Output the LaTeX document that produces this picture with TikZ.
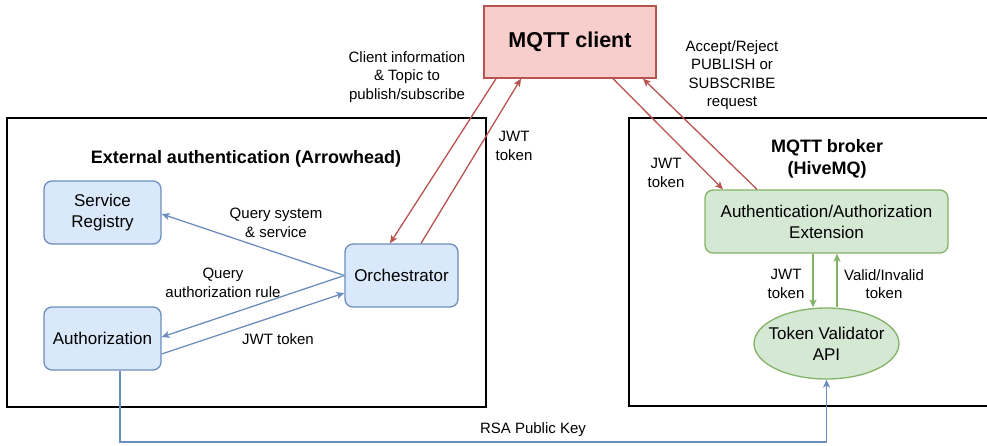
\documentclass[tikz,border=0pt]{standalone}
\usepackage{fontspec}
\setmainfont{Liberation Sans}
\usetikzlibrary{arrows.meta,shapes.geometric,calc}
\definecolor{redS}{HTML}{B85450}
\definecolor{redF}{HTML}{F8CECC}
\definecolor{blueS}{HTML}{6C8EBF}
\definecolor{blueF}{HTML}{DAE8FC}
\definecolor{greenS}{HTML}{82B366}
\definecolor{greenF}{HTML}{D5E8D4}
\tikzset{
  container/.style={draw=black, line width=1.6pt, inner sep=0pt},
  bluebox/.style={draw=blueS, fill=blueF, line width=1.3pt, rounded corners=8pt, align=center, inner sep=0pt, font=\fontsize{17}{21}\selectfont},
  greenbox/.style={draw=greenS, fill=greenF, line width=1.3pt, rounded corners=8pt, align=center, inner sep=0pt, font=\fontsize{17}{21}\selectfont},
  lbl/.style={align=center, inner sep=0pt, font=\fontsize{15}{18.5}\selectfont},
  ttl/.style={align=center, inner sep=0pt, font=\fontsize{18}{22}\selectfont\bfseries},
  tip/.style={-{Stealth[length=8pt,width=7pt,inset=2pt]}},
  redarr/.style={tip, draw=redS, line width=1.3pt},
  bluearr/.style={tip, draw=blueS, line width=1.3pt},
  greenarr/.style={tip, draw=greenS, line width=1.3pt},
}
\begin{document}
\begin{tikzpicture}[x=1pt,y=-1pt]
\useasboundingbox (0,0) rectangle (987,445);
\clip (0,0) rectangle (987,445);
% containers
\node[container, minimum width=479pt, minimum height=289pt] (left) at (246.5,262.5) {};
\node[container, minimum width=366pt, minimum height=288pt] (right) at (812,262) {};
% titles
\node[ttl] (lefttitle) at (246,159) {External authentication (Arrowhead)};
\node[ttl] (righttitle) at (827,159) {MQTT broker\\(HiveMQ)};
% MQTT client
\node[draw=redS, fill=redF, line width=1.3pt, minimum width=172pt, minimum height=72pt, inner sep=0pt, font=\fontsize{21.5}{25}\selectfont\bfseries] (client) at (570,42) {MQTT client};
% left nodes
\node[bluebox, minimum width=117pt, minimum height=63pt] (sr) at (102.5,212.5) {Service\\Registry};
\node[bluebox, minimum width=117pt, minimum height=63pt] (auth) at (102.5,338.5) {Authorization};
\node[bluebox, minimum width=113pt, minimum height=63pt] (orch) at (401.5,275.5) {Orchestrator};
% right nodes
\node[greenbox, minimum width=243pt, minimum height=63pt] (ext) at (826.5,221.5) {Authentication/Authorization\\Extension};
\node[ellipse, draw=greenS, fill=greenF, line width=1.3pt, minimum width=145pt, minimum height=71pt, inner sep=0pt,
  label={[align=center, inner sep=0pt, font=\fontsize{17}{21}\selectfont]center:Token Validator\\API}] (tva) at (826.5,343.5) {};
% red arrows
\draw[redarr] ([xshift=-74pt]client.south) -- ([xshift=-11.5pt]orch.north);
\draw[redarr] ([xshift=19.5pt]orch.north) -- ([xshift=-49pt]client.south);
\draw[redarr] ([xshift=43pt]client.south) -- ([xshift=-103.5pt]ext.north);
\draw[redarr] ([xshift=-69.5pt]ext.north) -- ([xshift=73pt]client.south);
% blue arrows
\draw[bluearr] (orch.west) -- ([yshift=-1.5pt]sr.east);
\draw[bluearr] (orch.west) -- ([yshift=1.5pt]auth.east);
\draw[bluearr] ([yshift=-15.5pt]auth.east) -- ([yshift=-17.5pt]orch.west);
% green arrows
\draw[greenarr] ([xshift=-13.5pt]ext.south) -- ([xshift=-13.5pt]tva.north);
\draw[greenarr] ([xshift=10.5pt]tva.north) -- ([xshift=10.5pt]ext.south);
% RSA
\coordinate (rsa) at (826.5,442);
\draw[bluearr] ([xshift=17.5pt]auth.south) |- (rsa) -- (tva.south);
% labels
\node[lbl] (l1) at (407,77) {Client information\\\& Topic to\\publish/subscribe};
\node[lbl] (l2) at (514,146) {JWT\\token};
\node[lbl] (l3) at (732,75) {Accept/Reject\\PUBLISH or\\SUBSCRIBE\\request};
\node[lbl] (l4) at (666,173) {JWT\\token};
\node[lbl] (l5) at (276,223) {Query system\\\& service};
\node[lbl] (l6) at (223,283) {Query\\authorization rule};
\node[lbl] (l7) at (278,339) {JWT token};
\node[lbl] (l8) at (786,284) {JWT\\token};
\node[lbl] (l9) at (884,284) {Valid/Invalid\\token};
\node[lbl] (l10) at (533,430) {RSA Public Key};
\end{tikzpicture}
\end{document}
